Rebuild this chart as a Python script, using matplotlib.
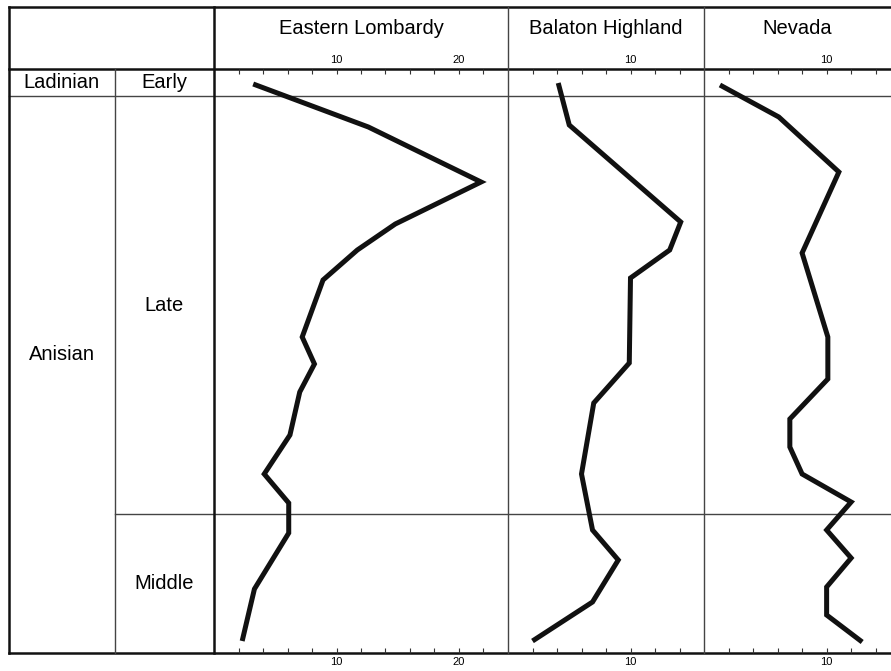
import matplotlib
matplotlib.use("Agg")
import matplotlib.pyplot as plt

plt.rcParams["font.family"] = ["Liberation Sans", "DejaVu Sans"]

# stratigraphic level (arbitrary units, 0 = base of section)
el_level = [569, 526, 471, 429, 403, 373, 316, 289, 261, 218, 179, 150, 120, 64, 12]
el_value = [3.2, 12.6, 21.8, 14.8, 11.7, 8.9, 7.2, 8.2, 7.0, 6.2, 4.1, 6.1, 6.1, 3.3, 2.3]

bal_level = [570, 528, 431, 403, 375, 290, 250, 179, 123, 93, 51, 12]
bal_value = [4.1, 5.0, 14.1, 13.2, 10.0, 9.9, 7.0, 6.0, 6.9, 9.0, 6.9, 2.0]

nev_level = [568, 536, 481, 400, 316, 274, 234, 206, 179, 151, 123, 95, 66, 38, 11]
nev_value = [1.3, 6.1, 11.0, 8.0, 10.1, 10.1, 7.0, 7.0, 8.0, 12.0, 10.0, 12.0, 10.0, 10.0, 12.9]

sections = ["Eastern Lombardy", "Balaton Highland", "Nevada"]
x_max = [24, 16, 15.25]

# stage boundaries (same level units)
top_level = 584
ladinian_base = 556.5
late_base = 139

W, H = 891, 671
fig = plt.figure(figsize=(W / 100, H / 100), dpi=100)

y0_px, y1_px = 653, 69
col_px = [9, 114.5, 214, 508, 704, W]


def fx(px):
    return px / W


ax_h = (y0_px - y1_px) / H
ax_b = (H - y0_px) / H

# background axes: x in pixels, y in levels
bg = fig.add_axes([0, ax_b, 1, ax_h])
bg.set_xlim(0, W)
bg.set_ylim(0, top_level)
bg.axis("off")

header_top = top_level + (y1_px - 7.5)
thin = dict(color="#444444", lw=1.0, clip_on=False)
thick = dict(color="#111111", lw=1.8, clip_on=False)

bg.plot([col_px[0], W], [header_top, header_top], **thick)
bg.plot([col_px[0], W], [top_level, top_level], **thick)
bg.plot([col_px[0], W], [ladinian_base, ladinian_base], **thin)
bg.plot([col_px[1], W], [late_base, late_base], **thin)
bg.plot([col_px[0], W], [0, 0], **thick)
bg.plot([col_px[0], col_px[0]], [0, header_top], **thick)
bg.plot([col_px[1], col_px[1]], [0, top_level], **thin)
bg.plot([col_px[2], col_px[2]], [0, header_top], **thick)
bg.plot([col_px[3], col_px[3]], [0, header_top], **thin)
bg.plot([col_px[4], col_px[4]], [0, header_top], **thin)

fs = 14.5
mid_lad = (top_level + ladinian_base) / 2
bg.text((col_px[0] + col_px[1]) / 2, mid_lad, "Ladinian", ha="center", va="center", fontsize=fs)
bg.text((col_px[1] + col_px[2]) / 2, mid_lad, "Early", ha="center", va="center", fontsize=fs)
bg.text((col_px[1] + col_px[2]) / 2, (ladinian_base + late_base) / 2, "Late",
        ha="center", va="center", fontsize=fs)
bg.text((col_px[1] + col_px[2]) / 2, late_base / 2, "Middle", ha="center", va="center", fontsize=fs)
bg.text((col_px[0] + col_px[1]) / 2, 298, "Anisian", ha="center", va="center", fontsize=fs)

header_mid = top_level + (y1_px - 29)
for i, name in enumerate(sections):
    bg.text((col_px[i + 2] + col_px[i + 3]) / 2, header_mid, name,
            ha="center", va="center", fontsize=fs)

data = [(el_value, el_level), (bal_value, bal_level), (nev_value, nev_level)]
for i, (vals, lev) in enumerate(data):
    left = col_px[i + 2]
    right = col_px[i + 3]
    ax = fig.add_axes([fx(left), ax_b, fx(right - left), ax_h])
    ax.patch.set_alpha(0)
    ax.plot(vals, lev, color="#111111", lw=3.6, solid_joinstyle="miter",
            solid_capstyle="butt")
    ax.set_xlim(0, x_max[i])
    ax.set_ylim(0, top_level)
    for s in ax.spines.values():
        s.set_visible(False)
    ticks = list(range(2, int(x_max[i]) + 1, 2))
    if ticks[-1] >= x_max[i]:
        ticks = ticks[:-1]
    ax.set_xticks(ticks)
    ax.set_xticklabels([str(t) if t % 10 == 0 else "" for t in ticks])
    ax.tick_params(axis="x", direction="in", top=True, bottom=True,
                   labeltop=True, labelbottom=True, length=3.6, width=0.8,
                   color="#333333", labelsize=8, pad=3)
    ax.set_yticks([])

fig.savefig("out.png", dpi=100)
